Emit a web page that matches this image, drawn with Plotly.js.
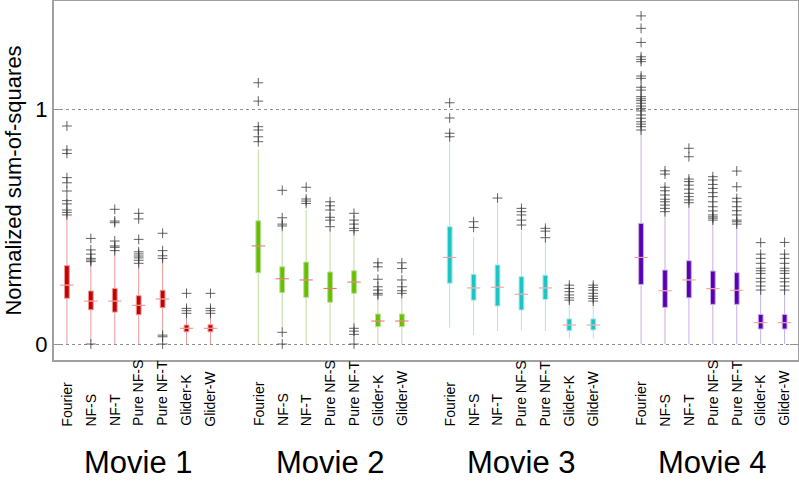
<!DOCTYPE html>
<html>
<head>
<meta charset="utf-8">
<script src="https://cdn.plot.ly/plotly-3.0.1.min.js"></script>
<style>html,body{margin:0;padding:0;background:#fff}#chart{width:799px;height:500px}</style>
</head>
<body>
<div id="chart"></div>
<script>
const methods = ['Fourier','NF-S','NF-T','Pure NF-S','Pure NF-T','Glider-K','Glider-W'];
const movies = ['Movie 1','Movie 2','Movie 3','Movie 4'];
const yTickVals = [0, 1];
const yTickText = ['0', '1'];

const m1_q1  = [0.195,0.146,0.136,0.125,0.155,0.052,0.052];
const m1_med = [0.251,0.183,0.183,0.165,0.192,0.067,0.067];
const m1_q3  = [0.334,0.226,0.237,0.206,0.229,0.081,0.082];
const m1_lo  = [0,0.01,0,0,0.05,0,0];
const m1_hi  = [0.545,0.350,0.392,0.337,0.362,0.122,0.122];
const m1_out = [
 [0.929,0.827,0.812,0.709,0.687,0.652,0.611,0.597,0.571,0.561,0.550],
 [0.450,0.401,0.383,0.365,0.358,0.351,0],
 [0.574,0.524,0.517,0.439,0.418,0.412,0.398],
 [0.557,0.533,0.446,0.393,0.384,0.375,0.367,0.357,0.344],
 [0.472,0.398,0.376,0.365,0.038,0.031,0],
 [0.216,0.152,0.142,0.131],
 [0.216,0.152,0.142,0.131]
];

const m2_q1  = [0.304,0.219,0.199,0.178,0.216,0.074,0.074];
const m2_med = [0.418,0.278,0.273,0.237,0.264,0.098,0.098];
const m2_q3  = [0.525,0.329,0.349,0.307,0.312,0.128,0.128];
const m2_lo  = [0,0.065,0,0,0.078,0,0];
const m2_hi  = [0.827,0.486,0.571,0.490,0.472,0.200,0.200];
const m2_out = [
 [1.113,1.035,0.926,0.912,0.883,0.862],
 [0.655,0.538,0.511,0.503,0.050,0],
 [0.668,0.618,0.609,0.599],
 [0.606,0.589,0.571,0.540,0.528,0.500],
 [0.557,0.528,0.511,0.493,0.483,0.067,0.055,0.041,0],
 [0.346,0.329,0.276,0.244,0.230,0.216,0.209],
 [0.346,0.322,0.273,0.244,0.227,0.216]
];

const m3_q1  = [0.259,0.187,0.162,0.145,0.190,0.057,0.060];
const m3_med = [0.369,0.239,0.242,0.212,0.239,0.081,0.081];
const m3_q3  = [0.500,0.297,0.337,0.287,0.293,0.107,0.107];
const m3_lo  = [0.070,0.038,0.055,0.060,0.055,0.024,0.024];
const m3_hi  = [0.869,0.457,0.597,0.481,0.445,0.180,0.178];
const m3_out = [
 [1.028,0.963,0.898,0.883],
 [0.521,0.497],
 [0.622],
 [0.578,0.564,0.550,0.528,0.507],
 [0.493,0.481,0.453],
 [0.251,0.237,0.223,0.209,0.197,0.187],
 [0.251,0.241,0.230,0.216,0.204,0.194,0.183]
];

const m4_q1  = [0.254,0.156,0.197,0.169,0.169,0.064,0.064];
const m4_med = [0.369,0.227,0.273,0.236,0.229,0.091,0.091];
const m4_q3  = [0.514,0.315,0.355,0.311,0.304,0.126,0.126];
const m4_lo  = [0,0,0,0,0,0,0];
const m4_hi  = [0.905,0.557,0.597,0.525,0.503,0.225,0.225];
const m4_out = [
 [1.398,1.345,1.285,1.224,1.213,1.203,1.142,1.132,1.094,1.082,1.054,1.045,1.037,1.026,1.014,1.004,0.993,0.976,0.962,0.947,0.937,0.926,0.912],
 [0.738,0.724,0.668,0.653,0.635,0.617,0.606,0.592,0.578,0.564],
 [0.834,0.798,0.703,0.692,0.677,0.660,0.642,0.628,0.614,0.602],
 [0.713,0.699,0.680,0.663,0.645,0.628,0.606,0.585,0.567,0.550,0.542,0.536,0.528],
 [0.737,0.670,0.621,0.606,0.585,0.568,0.550,0.528,0.521,0.511],
 [0.432,0.383,0.365,0.344,0.323,0.312,0.301,0.280,0.265,0.247,0.230],
 [0.433,0.383,0.365,0.344,0.323,0.312,0.301,0.280,0.265,0.247,0.230]
];

const boxColors = ['#c80000','#66c000','#1ec4c4','#5800b8'];
const whiskerColors = ['#e89a9a','#bcdc9c','#ace6e6','#c8aee2'];
const medianColors = ['#f08a8a','#e86a6a','#f09a9a','#f09a9a'];
const outlierColor = 'rgba(60,60,60,0.8)';

const stats = [
  {q1:m1_q1, med:m1_med, q3:m1_q3, lo:m1_lo, hi:m1_hi, out:m1_out},
  {q1:m2_q1, med:m2_med, q3:m2_q3, lo:m2_lo, hi:m2_hi, out:m2_out},
  {q1:m3_q1, med:m3_med, q3:m3_q3, lo:m3_lo, hi:m3_hi, out:m3_out},
  {q1:m4_q1, med:m4_med, q3:m4_q3, lo:m4_lo, hi:m4_hi, out:m4_out}
];

const GROUP = methods.length + 1;
const slot = (g, j) => g * GROUP + j;
const HALF_MED = 0.28;
const FONT = 'Liberation Sans, Arial, sans-serif';

const traces = [];
stats.forEach((s, g) => {
  const xs = methods.map((_, j) => slot(g, j));
  traces.push({
    type: 'box', name: movies[g], x: xs,
    q1: s.q1, median: s.med, q3: s.q3, lowerfence: s.lo, upperfence: s.hi,
    width: 0.2, whiskerwidth: 0, boxpoints: false,
    fillcolor: boxColors[g],
    line: {color: whiskerColors[g], width: 1},
    hoverinfo: 'skip', showlegend: false
  });
  const mx = [], my = [];
  s.med.forEach((m, j) => { mx.push(slot(g, j) - HALF_MED, slot(g, j) + HALF_MED, null); my.push(m, m, null); });
  traces.push({type: 'scatter', mode: 'lines', x: mx, y: my,
    line: {color: medianColors[g], width: 1}, hoverinfo: 'skip', showlegend: false});
  const ox = [], oy = [];
  s.out.forEach((arr, j) => arr.forEach(v => { ox.push(slot(g, j)); oy.push(v); }));
  traces.push({type: 'scatter', mode: 'markers', x: ox, y: oy,
    marker: {symbol: 'cross-thin-open', size: 7, color: outlierColor, line: {color: outlierColor, width: 1}},
    hoverinfo: 'skip', showlegend: false});
});

const annotations = [];
stats.forEach((s, g) => {
  methods.forEach((m, j) => {
    annotations.push({text: m, x: slot(g, j), xref: 'x', y: -0.19, yref: 'paper',
      xanchor: 'center', yanchor: 'bottom', textangle: -90, showarrow: false,
      font: {family: FONT, size: 14, color: '#000'}});
  });
  annotations.push({text: movies[g], x: slot(g, 3), xref: 'x', y: -0.285, yref: 'paper',
    xanchor: 'center', yanchor: 'middle', showarrow: false,
    font: {family: FONT, size: 31, color: '#000'}});
});

const layout = {
  width: 799, height: 500,
  margin: {l: 54, r: 1, t: 1, b: 140},
  paper_bgcolor: '#fff', plot_bgcolor: '#fff',
  showlegend: false,
  font: {family: FONT, color: '#000'},
  xaxis: {range: [-0.54, 30.56], showticklabels: false, ticks: '', showgrid: false, zeroline: false,
    showline: true, mirror: true, linecolor: '#a0a0a0', linewidth: 2},
  yaxis: {range: [-0.068, 1.4615], tickvals: yTickVals, ticktext: yTickText,
    ticks: 'inside', ticklen: 8, tickcolor: '#909090', tickwidth: 1,
    showgrid: true, gridcolor: '#909090', griddash: 'dot', gridwidth: 1, zeroline: false,
    showline: true, mirror: 'ticks', linecolor: '#a0a0a0', linewidth: 2,
    tickfont: {size: 22, color: '#000'},
    title: {text: 'Normalized sum-of-squares', font: {size: 22, color: '#000'}, standoff: 8}},
  annotations: annotations
};

Plotly.newPlot('chart', traces, layout, {staticPlot: true, displayModeBar: false});
</script>
</body>
</html>
